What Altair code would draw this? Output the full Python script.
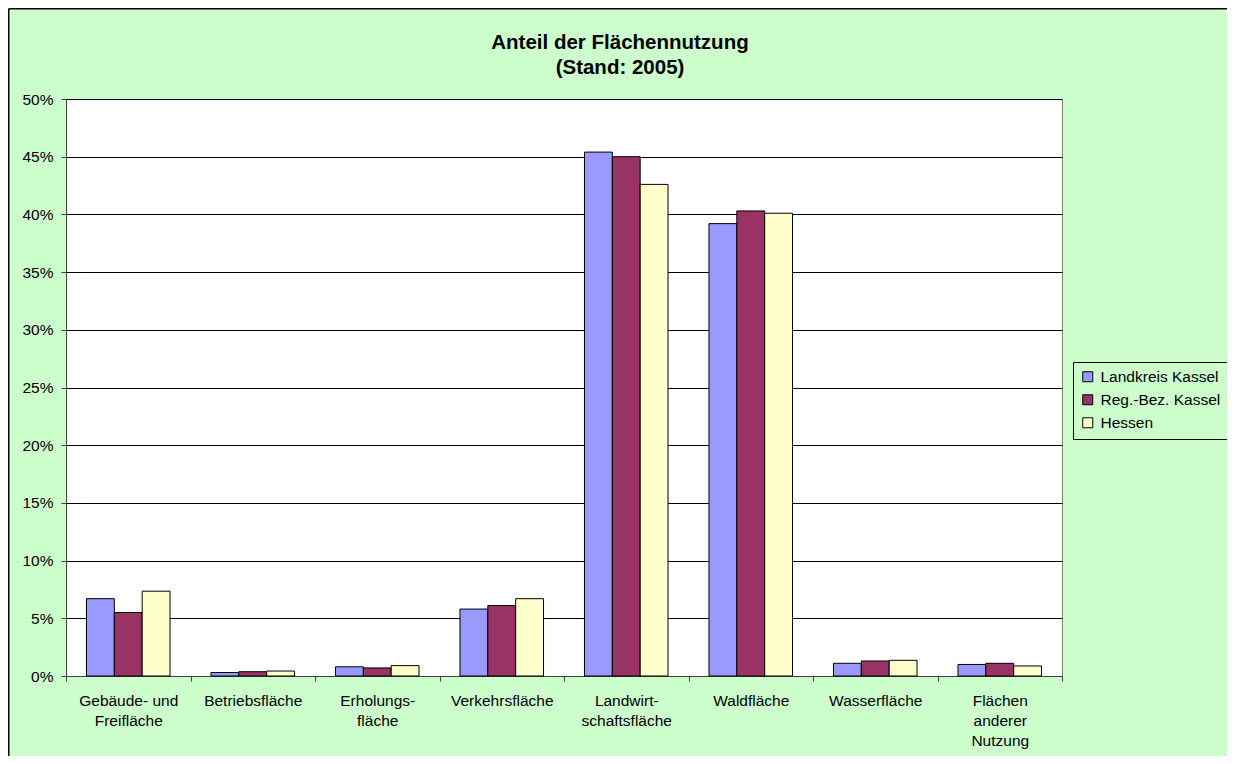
import altair as alt
import pandas as pd

# Category labels (line breaks as in the original axis)
categories = [
    "Gebäude- und\nFreifläche",
    "Betriebsfläche",
    "Erholungs-\nfläche",
    "Verkehrsfläche",
    "Landwirt-\nschaftsfläche",
    "Waldfläche",
    "Wasserfläche",
    "Flächen\nanderer\nNutzung",
]
series = ["Landkreis Kassel", "Reg.-Bez. Kassel", "Hessen"]
colors = ["#9999FF", "#993366", "#FFFFCC"]

landkreis_kassel = [0.067, 0.003, 0.008, 0.058, 0.454, 0.392, 0.011, 0.010]
reg_bez_kassel = [0.055, 0.0037, 0.007, 0.061, 0.450, 0.403, 0.013, 0.011]
hessen = [0.0735, 0.0043, 0.009, 0.067, 0.426, 0.401, 0.0136, 0.0087]

y_ticks = [0, 0.05, 0.10, 0.15, 0.20, 0.25, 0.30, 0.35, 0.40, 0.45, 0.50]

rows = []
for name, vals in zip(series, [landkreis_kassel, reg_bez_kassel, hessen]):
    for cat, v in zip(categories, vals):
        rows.append({"Kategorie": cat, "Gebiet": name, "Anteil": v})
df = pd.DataFrame(rows)

W, H = 996, 577
FONT = "Liberation Sans"

bars = alt.Chart(df).mark_bar(stroke="#000000", strokeWidth=1).encode(
    x=alt.X(
        "Kategorie:N",
        sort=categories,
        scale=alt.Scale(paddingInner=0, paddingOuter=0),
        axis=alt.Axis(
            title=None,
            labelAngle=0,
            labelExpr="split(datum.label, '\\n')",
            labelLineHeight=20,
            labelFontSize=15.5,
            labelFont=FONT,
            labelColor="#000000",
            labelPadding=12,
            tickBand="extent",
            tickSize=5,
            tickColor="#404040",
            domainColor="#404040",
            labelBaseline="top",
        ),
    ),
    xOffset=alt.XOffset(
        "Gebiet:N",
        sort=series,
        scale=alt.Scale(paddingInner=0, paddingOuter=0.735),
    ),
    y=alt.Y(
        "Anteil:Q",
        scale=alt.Scale(domain=[0, 0.5], nice=False),
        axis=alt.Axis(
            title=None,
            values=y_ticks,
            format=".0%",
            labelFontSize=15.5,
            labelFont=FONT,
            labelColor="#000000",
            labelPadding=8,
            tickSize=5,
            tickColor="#404040",
            domainColor="#404040",
            grid=True,
            gridColor="#000000",
            gridWidth=1,
        ),
    ),
    color=alt.Color(
        "Gebiet:N",
        sort=series,
        scale=alt.Scale(domain=series, range=colors),
        title=None,
        legend=alt.Legend(
            orient="none",
            legendX=1007,
            legendY=263,
            symbolType="square",
            symbolSize=100,
            symbolStrokeColor="#000000",
            symbolStrokeWidth=1,
            labelFontSize=15.5,
            labelFont=FONT,
            labelColor="#000000",
            labelOffset=5,
            rowPadding=6,
            padding=7,
            strokeColor="#000000",
            fillColor="#CCFFCC",
        ),
    ),
)

# outer chart border: left and top edges (the others fall outside the frame)
one = pd.DataFrame({"a": [0]})
border_left = alt.Chart(one).mark_rule(color="#000000", strokeWidth=1.5).encode(
    x=alt.value(-57.25),
    y=alt.value(-90.25),
    y2=alt.value(H + 200),
)
border_top = alt.Chart(one).mark_rule(color="#000000", strokeWidth=1.5).encode(
    x=alt.value(-57.25),
    x2=alt.value(W + 200),
    y=alt.value(-90.25),
)

chart = alt.layer(bars, border_left, border_top).properties(
    width=W,
    height=H,
    autosize=alt.AutoSizeParams(type="none"),
    padding={"left": 58, "top": 91, "right": 1219 - 58 - W, "bottom": 748 - 91 - H},
    title=alt.Title(
        text=["Anteil der Flächennutzung", "(Stand: 2005)"],
        fontSize=20.5,
        fontWeight="bold",
        font=FONT,
        color="#000000",
        lineHeight=25,
        anchor="middle",
        frame="group",
        dx=56,
        baseline="bottom",
        offset=-90,
    ),
).configure(
    background="#CCFFCC",
).configure_view(
    fill="#FFFFFF",
    stroke="#808080",
    strokeWidth=1,
)

chart.save("out.html", embed_options={"renderer": "svg", "actions": False})
